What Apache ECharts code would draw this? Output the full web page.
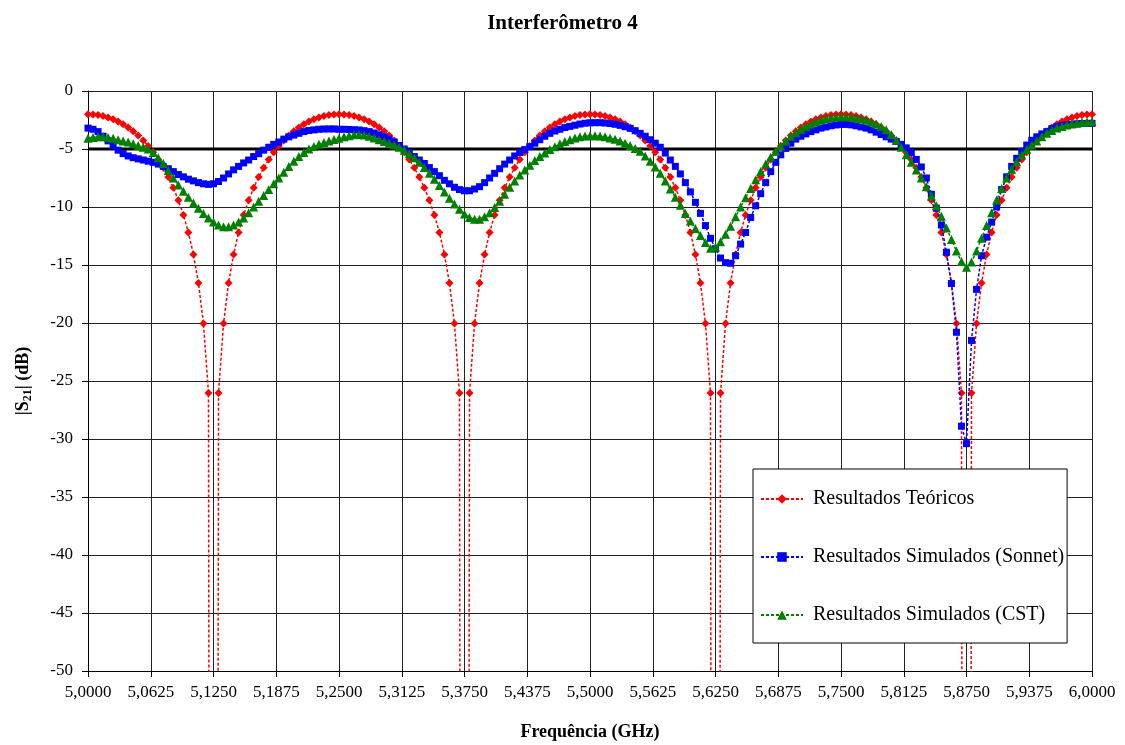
<!DOCTYPE html>
<html>
<head>
<meta charset="utf-8">
<script src="https://cdn.jsdelivr.net/npm/echarts@6/dist/echarts.min.js"></script>
<style>
  html, body { margin: 0; padding: 0; background: #fff; }
  #chart { width: 1125px; height: 745px; }
</style>
</head>
<body>
<div id="chart"></div>
<script>
// frequências (GHz)
const freq = [
  5.000, 5.005, 5.010, 5.015, 5.020, 5.025, 5.030, 5.035, 5.040, 5.045,
  5.050, 5.055, 5.060, 5.065, 5.070, 5.075, 5.080, 5.085, 5.090, 5.095,
  5.100, 5.105, 5.110, 5.115, 5.120, 5.125, 5.130, 5.135, 5.140, 5.145,
  5.150, 5.155, 5.160, 5.165, 5.170, 5.175, 5.180, 5.185, 5.190, 5.195,
  5.200, 5.205, 5.210, 5.215, 5.220, 5.225, 5.230, 5.235, 5.240, 5.245,
  5.250, 5.255, 5.260, 5.265, 5.270, 5.275, 5.280, 5.285, 5.290, 5.295,
  5.300, 5.305, 5.310, 5.315, 5.320, 5.325, 5.330, 5.335, 5.340, 5.345,
  5.350, 5.355, 5.360, 5.365, 5.370, 5.375, 5.380, 5.385, 5.390, 5.395,
  5.400, 5.405, 5.410, 5.415, 5.420, 5.425, 5.430, 5.435, 5.440, 5.445,
  5.450, 5.455, 5.460, 5.465, 5.470, 5.475, 5.480, 5.485, 5.490, 5.495,
  5.500, 5.505, 5.510, 5.515, 5.520, 5.525, 5.530, 5.535, 5.540, 5.545,
  5.550, 5.555, 5.560, 5.565, 5.570, 5.575, 5.580, 5.585, 5.590, 5.595,
  5.600, 5.605, 5.610, 5.615, 5.620, 5.625, 5.630, 5.635, 5.640, 5.645,
  5.650, 5.655, 5.660, 5.665, 5.670, 5.675, 5.680, 5.685, 5.690, 5.695,
  5.700, 5.705, 5.710, 5.715, 5.720, 5.725, 5.730, 5.735, 5.740, 5.745,
  5.750, 5.755, 5.760, 5.765, 5.770, 5.775, 5.780, 5.785, 5.790, 5.795,
  5.800, 5.805, 5.810, 5.815, 5.820, 5.825, 5.830, 5.835, 5.840, 5.845,
  5.850, 5.855, 5.860, 5.865, 5.870, 5.875, 5.880, 5.885, 5.890, 5.895,
  5.900, 5.905, 5.910, 5.915, 5.920, 5.925, 5.930, 5.935, 5.940, 5.945,
  5.950, 5.955, 5.960, 5.965, 5.970, 5.975, 5.980, 5.985, 5.990, 5.995,
  6.000
];

// Resultados Teóricos (dB)
const teorico = [
  -2.00, -2.02, -2.07, -2.16, -2.28, -2.44, -2.63, -2.87, -3.15, -3.47,
  -3.84, -4.26, -4.75, -5.29, -5.91, -6.62, -7.42, -8.34, -9.42, -10.68,
  -12.20, -14.09, -16.55, -20.04, -26.04, -326, -26.04, -20.04, -16.55, -14.09,
  -12.20, -10.68, -9.42, -8.34, -7.42, -6.62, -5.91, -5.29, -4.75, -4.26,
  -3.84, -3.47, -3.15, -2.87, -2.63, -2.44, -2.28, -2.16, -2.07, -2.02,
  -2.00, -2.02, -2.07, -2.16, -2.28, -2.44, -2.63, -2.87, -3.15, -3.47,
  -3.84, -4.26, -4.75, -5.29, -5.91, -6.62, -7.42, -8.34, -9.42, -10.68,
  -12.20, -14.09, -16.55, -20.04, -26.04, -326, -26.04, -20.04, -16.55, -14.09,
  -12.20, -10.68, -9.42, -8.34, -7.42, -6.62, -5.91, -5.29, -4.75, -4.26,
  -3.84, -3.47, -3.15, -2.87, -2.63, -2.44, -2.28, -2.16, -2.07, -2.02,
  -2.00, -2.02, -2.07, -2.16, -2.28, -2.44, -2.63, -2.87, -3.15, -3.47,
  -3.84, -4.26, -4.75, -5.29, -5.91, -6.62, -7.42, -8.34, -9.42, -10.68,
  -12.20, -14.09, -16.55, -20.04, -26.04, -326, -26.04, -20.04, -16.55, -14.09,
  -12.20, -10.68, -9.42, -8.34, -7.42, -6.62, -5.91, -5.29, -4.75, -4.26,
  -3.84, -3.47, -3.15, -2.87, -2.63, -2.44, -2.28, -2.16, -2.07, -2.02,
  -2.00, -2.02, -2.07, -2.16, -2.28, -2.44, -2.63, -2.87, -3.15, -3.47,
  -3.84, -4.26, -4.75, -5.29, -5.91, -6.62, -7.42, -8.34, -9.42, -10.68,
  -12.20, -14.09, -16.55, -20.04, -26.04, -326, -26.04, -20.04, -16.55, -14.09,
  -12.20, -10.68, -9.42, -8.34, -7.42, -6.62, -5.91, -5.29, -4.75, -4.26,
  -3.84, -3.47, -3.15, -2.87, -2.63, -2.44, -2.28, -2.16, -2.07, -2.02,
  -2.00
];

// Resultados Simulados (Sonnet) (dB)
const sonnet = [
  -3.2, -3.3, -3.5, -3.9, -4.3, -4.7, -5.1, -5.4, -5.6, -5.75,
  -5.85, -5.95, -6.05, -6.15, -6.3, -6.5, -6.7, -6.95, -7.2, -7.4,
  -7.6, -7.75, -7.9, -8.0, -8.05, -8.0, -7.8, -7.5, -7.15, -6.8,
  -6.5, -6.2, -5.95, -5.65, -5.4, -5.1, -4.85, -4.6, -4.4, -4.15,
  -3.95, -3.8, -3.65, -3.5, -3.4, -3.35, -3.3, -3.28, -3.27, -3.27,
  -3.3, -3.3, -3.32, -3.34, -3.36, -3.42, -3.5, -3.62, -3.78, -3.95,
  -4.15, -4.4, -4.7, -5.0, -5.3, -5.65, -5.95, -6.25, -6.6, -6.95,
  -7.3, -7.7, -8.0, -8.3, -8.5, -8.6, -8.6, -8.45, -8.25, -7.9,
  -7.5, -7.1, -6.7, -6.3, -5.95, -5.6, -5.3, -5.05, -4.8, -4.5,
  -4.2, -3.9, -3.65, -3.45, -3.3, -3.15, -3.05, -2.95, -2.85, -2.78,
  -2.74, -2.73, -2.73, -2.76, -2.8, -2.87, -2.96, -3.08, -3.22, -3.42,
  -3.65, -3.9, -4.2, -4.5, -4.85, -5.35, -5.95, -6.5, -7.15, -7.9,
  -8.7, -9.6, -10.55, -11.6, -12.7, -13.6, -14.4, -14.8, -14.85, -14.2,
  -13.2, -12.2, -10.9, -9.9, -8.85, -7.9, -6.95, -6.15, -5.5, -4.95,
  -4.5, -4.15, -3.9, -3.7, -3.5, -3.35, -3.2, -3.1, -3.0, -2.93,
  -2.88, -2.88, -2.92, -3.0, -3.1, -3.2, -3.35, -3.55, -3.75, -3.95,
  -4.15, -4.35, -4.6, -4.9, -5.3, -5.9, -6.55, -7.5, -8.9, -10.1,
  -11.55, -13.9, -16.6, -20.8, -28.9, -30.4, -21.5, -17.1, -14.2, -12.6,
  -11.3, -10.0, -8.5, -7.4, -6.5, -5.8, -5.2, -4.66, -4.25, -3.95,
  -3.7, -3.5, -3.25, -3.08, -2.98, -2.92, -2.87, -2.83, -2.8, -2.79,
  -2.79
];

// Resultados Simulados (CST) (dB)
const cst = [
  -4.08, -4.0, -3.95, -3.95, -4.0, -4.08, -4.2, -4.3, -4.4, -4.55,
  -4.7, -4.85, -5.0, -5.3, -5.75, -6.25, -6.85, -7.5, -8.1, -8.65,
  -9.15, -9.65, -10.1, -10.55, -10.95, -11.3, -11.55, -11.7, -11.7, -11.55,
  -11.3, -10.95, -10.5, -10.0, -9.5, -9.0, -8.5, -8.0, -7.5, -7.0,
  -6.5, -6.05, -5.65, -5.3, -5.0, -4.78, -4.6, -4.45, -4.3, -4.18,
  -4.08, -3.95, -3.85, -3.78, -3.75, -3.8, -3.9, -4.05, -4.2, -4.35,
  -4.5, -4.65, -4.85, -5.1, -5.4, -5.75, -6.15, -6.6, -7.1, -7.6,
  -8.15, -8.7, -9.25, -9.75, -10.2, -10.6, -10.9, -11.05, -11.05, -10.85,
  -10.5, -10.05, -9.5, -8.9, -8.3, -7.75, -7.25, -6.8, -6.4, -6.0,
  -5.65, -5.35, -5.05, -4.8, -4.55, -4.35, -4.2, -4.05, -3.95, -3.88,
  -3.85, -3.85, -3.88, -3.95, -4.05, -4.15, -4.3, -4.5, -4.7, -4.95,
  -5.2, -5.6, -6.05, -6.55, -7.1, -7.75, -8.45, -9.15, -9.85, -10.55,
  -11.2, -11.85, -12.45, -13.05, -13.55, -13.45, -13.0, -12.35, -11.65, -10.85,
  -10.0, -9.2, -8.4, -7.65, -6.95, -6.3, -5.7, -5.2, -4.75, -4.3,
  -3.9, -3.6, -3.3, -3.05, -2.85, -2.65, -2.5, -2.38, -2.3, -2.24,
  -2.21, -2.21, -2.25, -2.32, -2.4, -2.5, -2.65, -2.85, -3.05, -3.35,
  -3.75, -4.25, -4.85, -5.5, -6.15, -6.8, -7.5, -8.25, -9.05, -9.9,
  -10.8, -11.8, -12.8, -13.8, -14.7, -15.2, -14.75, -13.8, -12.7, -11.6,
  -10.5, -9.4, -8.4, -7.5, -6.75, -6.1, -5.5, -5.05, -4.65, -4.3,
  -3.95, -3.65, -3.4, -3.2, -3.05, -2.93, -2.84, -2.77, -2.71, -2.67,
  -2.64
];

// linha de referência -5 dB
const linhaRef = [[5.0, -5], [6.0, -5]];

const fonte = "'Liberation Serif', 'Times New Roman', serif";
const pares = (ys) => freq.map((f, i) => [f, ys[i]]);

var myChart = echarts.init(document.getElementById("chart"));
var option = {
  animation: false,
  backgroundColor: "#fff",
  textStyle: { fontFamily: fonte, color: "#000" },
  title: {
    text: "Interferômetro 4",
    left: "center",
    top: 8,
    textStyle: { fontFamily: fonte, fontSize: 21, fontWeight: "bold", color: "#000" },
  },
  grid: { left: 88, right: 33, top: 91, bottom: 74, outerBoundsMode: "none" },
  legend: {
    orient: "vertical",
    left: 753,
    top: 469,
    padding: [20, 3, 18, 7],
    itemGap: 38,
    itemWidth: 42,
    itemHeight: 12,
    backgroundColor: "#fff",
    borderColor: "#000",
    borderWidth: 1,
    textStyle: { fontFamily: fonte, fontSize: 20, color: "#000", padding: [0, 0, 0, 5] },
    data: ["Resultados Teóricos", "Resultados Simulados (Sonnet)", "Resultados Simulados (CST)"],
  },
  xAxis: {
    type: "value",
    min: 5,
    max: 6,
    interval: 0.0625,
    name: "Frequência (GHz)",
    nameLocation: "middle",
    nameGap: 52,
    nameTextStyle: { fontFamily: fonte, fontSize: 18, fontWeight: "bold", color: "#000" },
    axisLine: { onZero: false, lineStyle: { color: "#000", width: 1 } },
    axisTick: { show: true, length: 6, lineStyle: { color: "#000" } },
    axisLabel: {
      margin: 13,
      fontFamily: fonte,
      fontSize: 17,
      color: "#000",
      formatter: (v) => v.toFixed(4).replace(".", ","),
    },
    splitLine: { show: true, lineStyle: { color: "#222", width: 1 } },
  },
  yAxis: {
    type: "value",
    min: -50,
    max: 0,
    interval: 5,
    name: "|S{sub|21}| (dB)",
    nameLocation: "middle",
    nameGap: 54,
    nameTextStyle: {
      fontFamily: fonte,
      fontSize: 18,
      fontWeight: "bold",
      color: "#000",
      rich: {
        sub: { fontFamily: fonte, fontSize: 12, fontWeight: "bold", color: "#000", verticalAlign: "bottom", padding: [9, 0, 0, 0] },
      },
    },
    axisLine: { show: true, lineStyle: { color: "#000", width: 1 } },
    axisTick: { show: true, length: 6, lineStyle: { color: "#000" } },
    axisLabel: { margin: 15, fontFamily: fonte, fontSize: 17, color: "#000" },
    splitLine: { show: true, lineStyle: { color: "#222", width: 1 } },
  },
  series: [
    {
      name: "-5 dB",
      type: "line",
      data: linhaRef,
      symbol: "none",
      lineStyle: { color: "#000", width: 3 },
      z: 1,
      silent: true,
    },
    {
      name: "Resultados Teóricos",
      type: "line",
      data: pares(teorico),
      symbol: "diamond",
      symbolSize: 8,
      clip: true,
      itemStyle: { color: "#ff0000" },
      lineStyle: { color: "#ff0000", width: 1.5, type: [3, 2] },
      z: 2,
    },
    {
      name: "Resultados Simulados (Sonnet)",
      type: "line",
      data: pares(sonnet),
      symbol: "rect",
      symbolSize: 7,
      clip: true,
      itemStyle: { color: "#0000ff" },
      lineStyle: { color: "#0000ff", width: 1.5, type: [3, 2] },
      z: 3,
    },
    {
      name: "Resultados Simulados (CST)",
      type: "line",
      data: pares(cst),
      symbol: "triangle",
      symbolSize: 9,
      clip: true,
      itemStyle: { color: "#008000" },
      lineStyle: { color: "#008000", width: 1.5, type: [3, 2] },
      z: 4,
    },
  ],
};

if (option && typeof option === "object") {
  myChart.setOption(option);
}
</script>
</body>
</html>
